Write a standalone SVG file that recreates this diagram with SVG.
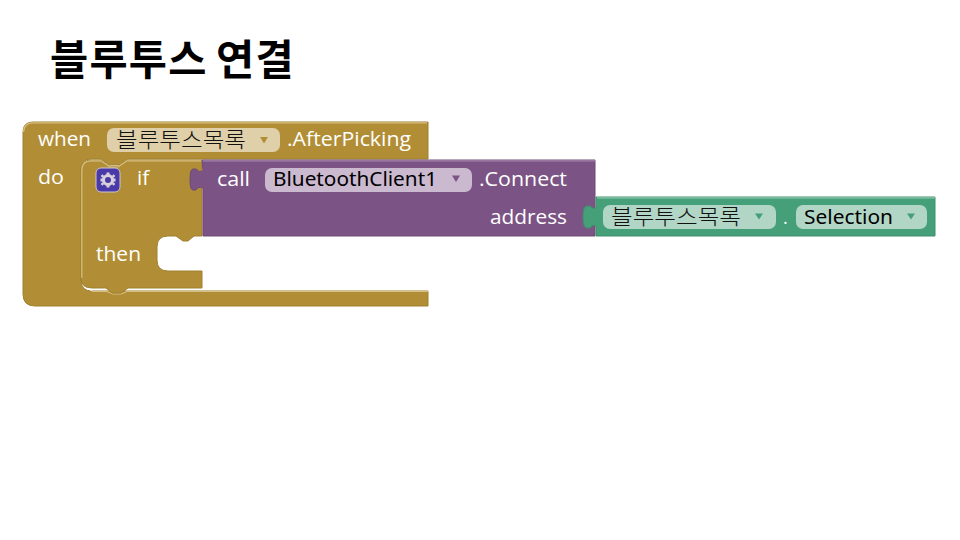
<svg xmlns="http://www.w3.org/2000/svg" width="960" height="540" viewBox="0 0 960 540">
<style>
text{font-family:"Open Sans","Noto Sans CJK KR",sans-serif}
.t{font-size:20.500px;fill:#fff}
.f{font-size:20.500px;fill:#000;font-family:"Noto Sans","Noto Sans CJK KR",sans-serif}
.k{font-size:21px;fill:#111;font-weight:300;font-family:"Noto Sans CJK KR",sans-serif}
.title{font-size:41.500px;font-weight:700;fill:#000;font-family:"Noto Sans CJK KR",sans-serif;letter-spacing:1.200px}
.gold{fill:#b18e35;stroke:#a08030;stroke-width:1}
.purple{fill:#7c5385;stroke:#6f4a77;stroke-width:1}
.green{fill:#459f78;stroke:#3e8f6c;stroke-width:1}
.lg{fill:none;stroke:#d8c083;stroke-width:1.200}
.lp{fill:none;stroke:#a585ac;stroke-width:1.200}
.lv{fill:none;stroke:#8fc7ae;stroke-width:1.200}
</style>
<text class="title" y="75"><tspan x="50">블루투스</tspan> <tspan x="216">연결</tspan></text>

<g id="when-block">
<path class="gold" d="M33 122H428V159H127L119 165H109L101 159H91Q81 159 81 169V280Q81 291 92 291H428V306H35Q23 306 23 294V132Q23 122 33 122Z"/>
<path class="lg" d="M23.500 132Q24 122.800 33 122.800H427"/>
<path class="lg" d="M92 291.500H107L113 294H121L127 291.500H428"/>
<path d="M82 281Q84 289 92 291V288L88 285Z" fill="#fff"/>
<text class="t" x="38" y="146" textLength="53" lengthAdjust="spacingAndGlyphs">when</text>
<text class="t" x="38" y="184" textLength="26" lengthAdjust="spacingAndGlyphs">do</text>
<rect x="107" y="128" width="173" height="24" rx="7" fill="#dfd0aa"/>
<text class="k" x="116" y="147" textLength="130" lengthAdjust="spacingAndGlyphs">블루투스목록</text>
<path d="M260 137H268L264 143.500Z" fill="#b18e35"/>
<text class="t" x="287" y="146" textLength="124" lengthAdjust="spacingAndGlyphs">.AfterPicking</text>
</g>

<g id="if-block">
<path class="gold" d="M91 160H101L110 166.500H118L127 160H202V236H194L188 241H183L176 236H168Q157 236 157 247V260Q157 271 168 271H202V288H128L121 293H112L106 288H92Q81 288 81 278V170Q81 160 91 160Z"/>
<path class="lg" d="M81.800 278V170Q82 161 91 160.800H101L110 167H118L127 160.800H202"/>
<rect x="96" y="168" width="24" height="24" rx="5" fill="#4a3aa8" stroke="#cfc6d0" stroke-width="1"/>
<g fill="#d9d2dd">
<circle cx="108" cy="180" r="4.500" fill="none" stroke="#d9d2dd" stroke-width="3"/>
<path d="M106.500 172.500H109.500V175.500H106.500ZM106.500 184.500H109.500V187.500H106.500ZM100.500 178.500H103.500V181.500H100.500ZM112.500 178.500H115.500V181.500H112.500ZM102.400 174.300L104.100 176L102.400 177.700L100.700 176ZM113.600 174.300L115.300 176L113.600 177.700L111.900 176ZM102.400 182.300L104.100 184L102.400 185.700L100.700 184ZM113.600 182.300L115.300 184L113.600 185.700L111.900 184Z"/>
</g>
<text class="t" x="137" y="185">if</text>
<text class="t" x="96" y="261" textLength="45" lengthAdjust="spacingAndGlyphs">then</text>
</g>

<g id="call-block">
<path class="purple" d="M202 160H595V236H203V188Q198 186 196 190H193Q190 190 190 180Q190 169 193 169H196Q199 173 203 171Z"/>
<path class="lp" d="M203 160.800H595"/>
<text class="t" x="217" y="186" textLength="33" lengthAdjust="spacingAndGlyphs">call</text>
<rect x="265" y="168" width="207" height="24" rx="7" fill="#cbb9cf"/>
<text class="f" x="273" y="186" textLength="164" lengthAdjust="spacingAndGlyphs">BluetoothClient1</text>
<path d="M452 175.500H460L456 182Z" fill="#7c5385"/>
<text class="t" x="479" y="186" textLength="88" lengthAdjust="spacingAndGlyphs">.Connect</text>
<text class="t" x="490" y="224" textLength="77" lengthAdjust="spacingAndGlyphs">address</text>
</g>

<g id="selection-block">
<path class="green" d="M596 197H935V236H596V226Q592 224 590 228H587Q583 228 583 217Q583 206 587 206H590Q592 209 596 208Z"/>
<path class="lv" d="M597 197.800H935"/>
<rect x="603" y="205" width="173" height="24" rx="7" fill="#b2d6c5"/>
<text class="k" x="611" y="224" textLength="130" lengthAdjust="spacingAndGlyphs">블루투스목록</text>
<path d="M755 213.500H763L759 219.500Z" fill="#459f78"/>
<text class="t" x="783" y="224" style="font-size:18px">.</text>
<rect x="796" y="205" width="131" height="24" rx="7" fill="#b2d6c5"/>
<text class="f" x="804" y="224" textLength="89" lengthAdjust="spacingAndGlyphs">Selection</text>
<path d="M907 213.500H915L911 219.500Z" fill="#459f78"/>
</g>
<g id="connectors"/>
</svg>
